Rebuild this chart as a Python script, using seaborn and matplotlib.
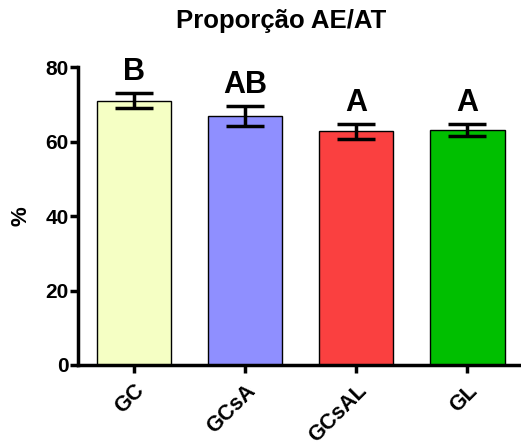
# Proporção AE/AT bar chart with SEM error bars

import seaborn as sns
import pandas as pd
import matplotlib.pyplot as plt

groups = ["GC", "GCsA", "GCsAL", "GL"]
means = [71.0, 66.9, 62.7, 63.1]
errors = [2.1, 2.7, 2.1, 1.6]
letters = ["B", "AB", "A", "A"]
colors = ["#F5FFC4", "#8F8FFF", "#FA4040", "#00BF00"]

df = pd.DataFrame({"grupo": groups, "valor": means})

sns.set_style("ticks")
plt.rcParams['font.family'] = ['Liberation Sans', 'DejaVu Sans']
plt.rcParams['font.weight'] = 'bold'
plt.rcParams['text.color'] = 'black'
plt.rcParams['axes.labelcolor'] = 'black'
plt.rcParams['xtick.color'] = 'black'
plt.rcParams['ytick.color'] = 'black'
plt.rcParams['axes.edgecolor'] = 'black'

fig = plt.figure(figsize=(5.21, 4.48), dpi=100)
ax = fig.add_axes([0.1497, 0.1853, 0.85, 0.665])

sns.barplot(data=df, x="grupo", y="valor", hue="grupo", palette=colors,
            width=0.667, edgecolor="black", linewidth=1, saturation=1,
            legend=False, ax=ax)

# error bars
ax.errorbar(range(len(groups)), means, yerr=errors, fmt="none",
            ecolor="black", elinewidth=2.5, capsize=14, capthick=2.5)

# significance letters
for i, (m, e, t) in enumerate(zip(means, errors, letters)):
    ax.text(i, m + e + 3.5, t, ha="center", va="baseline",
            fontsize=22, fontweight="bold")

ax.set_xlim(-0.5, 3.48)
ax.set_ylim(0, 80)
ax.set_yticks([0, 20, 40, 60, 80])
ax.set_xlabel("")
ax.set_ylabel("%", fontsize=16, fontweight="bold", labelpad=10)
fig.text(0.54, 0.937, "Proporção AE/AT", ha="center", va="baseline",
         fontsize=18.5, fontweight="bold")

sns.despine(ax=ax)
for s in ["left", "bottom"]:
    ax.spines[s].set_linewidth(2.5)
ax.tick_params(axis="y", width=2.5, length=5.5, pad=1, labelsize=15)
ax.tick_params(axis="x", width=2.5, length=6, pad=5, labelsize=15.5)
plt.setp(ax.get_xticklabels(), rotation=45, ha="right", rotation_mode="anchor",
         fontweight="bold")
plt.setp(ax.get_yticklabels(), fontweight="bold")

plt.savefig("out.png", dpi=100)
